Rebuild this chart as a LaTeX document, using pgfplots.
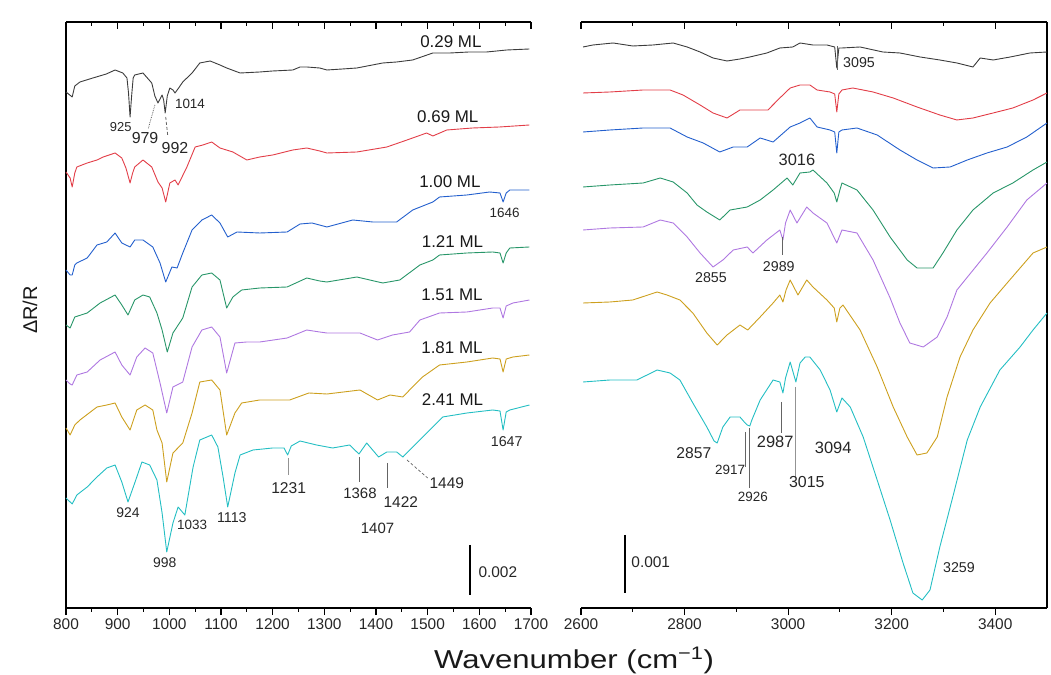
\documentclass[border=0pt]{standalone}
\usepackage{pgfplots}
\pgfplotsset{compat=1.18}
\usepackage{fontspec}
\setmainfont{Liberation Sans}
\newfontfamily\widefont{Liberation Sans}[FakeStretch=1.2]

\definecolor{c029}{RGB}{60,60,60}
\definecolor{c069}{RGB}{226,62,72}
\definecolor{c100}{RGB}{35,95,205}
\definecolor{c121}{RGB}{40,150,105}
\definecolor{c151}{RGB}{175,120,225}
\definecolor{c181}{RGB}{205,160,30}
\definecolor{c241}{RGB}{35,190,195}
\definecolor{lead}{RGB}{100,100,100}

\newcommand{\fs}[1]{\fontsize{#1}{#1}\selectfont}

\tikzset{
  lbl/.style={font=\fs{#1}, text=black!85, inner sep=0pt},
  ml/.style={font=\fs{17}, text=black!90, inner sep=0pt},
}

\pgfplotsset{
  spec/.style={
    scale only axis, anchor=south west,
    width=465bp, height=586bp,
    ymin=0, ymax=586,
    ytick=\empty,
    tick align=outside,
    major tick length=7bp, minor tick length=4bp,
    axis line style={line width=1.2bp, -},
    tick style={line width=1.1bp, black},
    minor x tick num=1,
    /pgf/number format/1000 sep={},
    /pgf/number format/assume math mode=true,
    xticklabel style={font=\fs{15.5}, text=black!85},
    clip=false, no markers,
    every axis plot/.append style={line width=0.9bp, line join=round},
  },
  topframe/.style={
    spec, axis x line*=top, axis y line=none,
    tick align=inside, xticklabels={},
  },
}

\begin{document}
\begin{tikzpicture}
\path[use as bounding box] (0,0) rectangle (1051bp,675bp);

% ---------------- fingerprint region ----------------
\begin{axis}[spec, at={(66bp,67bp)}, xmin=800, xmax=1700,
  xtick={800,900,...,1700}, axis x line*=bottom, axis y line*=left]
% 0.29 ML
\addplot[c029] coordinates {(800,516) (812,511) (817,522) (827,526) (852,530) (878,534) (895,538) (910,535) (918,530) (921,515) (924,491) (927,512) (930,530) (933,533) (949,535) (966,525) (972,512) (978,505) (986,513) (989,508) (992,495) (996,512) (1001,520) (1007,518) (1011,515) (1018,520) (1026,526) (1044,535) (1059,545) (1079,547) (1098,543) (1111,540) (1137,535) (1175,536) (1200,537) (1239,538) (1253,541) (1266,541) (1291,540) (1305,538) (1335,539) (1363,540) (1413,545) (1440,546) (1471,548) (1510,555) (1543,555) (1580,556) (1614,556) (1653,558) (1697,559)};
% 0.69 ML
\addplot[c069] coordinates {(800,436) (808,430) (812,421) (817,435) (821,441) (841,445) (860,448) (872,451) (895,455) (908,450) (916,440) (924,425) (929,435) (933,441) (949,448) (966,441) (978,426) (986,420) (993,406) (1001,425) (1011,428) (1017,423) (1034,441) (1050,461) (1065,463) (1082,466) (1098,460) (1123,456) (1150,448) (1175,451) (1200,453) (1239,458) (1266,460) (1291,457) (1305,455) (1363,456) (1421,461) (1460,468) (1498,475) (1510,472) (1537,478) (1587,480) (1639,481) (1697,483)};
% 1.00 ML
\addplot[c100] coordinates {(800,338) (808,333) (812,333) (817,343) (821,345) (841,350) (860,363) (879,366) (895,375) (908,365) (924,361) (933,368) (949,368) (968,361) (982,345) (993,326) (1005,341) (1015,340) (1026,355) (1044,378) (1063,388) (1082,393) (1098,385) (1113,371) (1131,376) (1175,375) (1228,376) (1253,384) (1276,385) (1305,381) (1355,388) (1394,386) (1440,386) (1471,398) (1510,406) (1523,411) (1576,413) (1620,416) (1640,415) (1646,406) (1652,415) (1659,418) (1697,418)};
% 1.21 ML
\addplot[c121] coordinates {(800,283) (808,280) (817,291) (841,295) (866,305) (895,313) (908,303) (920,293) (933,308) (949,313) (962,311) (976,295) (986,278) (996,256) (1007,275) (1026,290) (1044,321) (1063,333) (1082,335) (1098,328) (1111,300) (1123,311) (1140,318) (1175,320) (1228,321) (1266,330) (1291,327) (1305,326) (1363,331) (1413,325) (1446,328) (1485,343) (1510,348) (1523,353) (1576,355) (1626,356) (1640,355) (1646,345) (1652,355) (1659,360) (1697,361)};
% 1.51 ML
\addplot[c151] coordinates {(800,228) (808,224) (812,223) (821,233) (841,236) (866,248) (895,256) (908,243) (924,233) (937,251) (953,260) (968,255) (982,225) (995,195) (1007,221) (1026,226) (1044,261) (1063,278) (1082,281) (1098,271) (1111,235) (1127,265) (1150,266) (1175,266) (1228,270) (1266,278) (1291,276) (1305,275) (1369,275) (1403,268) (1432,273) (1465,276) (1485,288) (1523,295) (1576,296) (1626,300) (1640,300) (1646,290) (1652,302) (1665,305) (1697,308)};
% 1.81 ML
\addplot[c181] coordinates {(800,180) (808,173) (817,183) (827,188) (860,201) (879,203) (895,205) (908,191) (924,178) (937,198) (953,203) (968,198) (976,178) (986,165) (995,126) (1007,155) (1026,165) (1044,195) (1059,226) (1082,228) (1098,218) (1111,173) (1127,195) (1140,205) (1175,208) (1233,208) (1270,215) (1305,214) (1369,218) (1403,208) (1427,213) (1452,211) (1465,218) (1490,231) (1523,243) (1576,246) (1626,250) (1640,249) (1646,236) (1652,249) (1665,251) (1697,253)};
% 2.41 ML
\addplot[c241] coordinates {(800,110) (808,106) (812,104) (821,113) (841,121) (860,131) (879,140) (895,143) (908,126) (920,106) (933,125) (947,146) (962,143) (976,128) (986,95) (995,56) (1007,85) (1017,101) (1030,93) (1046,141) (1059,168) (1082,173) (1094,161) (1104,131) (1113,101) (1127,135) (1137,153) (1162,158) (1200,160) (1222,160) (1229,153) (1236,162) (1253,167) (1285,163) (1316,160) (1349,163) (1367,154) (1382,165) (1405,151) (1421,156) (1440,156) (1452,151) (1479,165) (1510,181) (1529,191) (1576,195) (1626,198) (1640,197) (1646,178) (1652,196) (1659,198) (1697,203)};

% coverage labels
\node[ml] at (axis cs:1545,566) {0.29 ML};
\node[ml] at (axis cs:1539,491) {0.69 ML};
\node[ml] at (axis cs:1543,426) {1.00 ML};
\node[ml] at (axis cs:1548,366) {1.21 ML};
\node[ml] at (axis cs:1547,313) {1.51 ML};
\node[ml] at (axis cs:1547,260) {1.81 ML};
\node[ml] at (axis cs:1548,208) {2.41 ML};

% band assignments
\node[lbl=13] at (axis cs:906,481) {925};
\node[lbl=16] at (axis cs:953,470) {979};
\draw[lead, densely dotted, line width=0.8bp] (axis cs:972,503) -- (axis cs:959,479);
\node[lbl=16] at (axis cs:1011,460) {992};
\draw[lead, densely dashed, line width=0.8bp] (axis cs:993,491) -- (axis cs:997,472);
\node[lbl=13.5] at (axis cs:1040,504) {1014};
\node[lbl=13.5] at (axis cs:1649,395) {1646};
\node[lbl=14.3] at (axis cs:1653,166) {1647};
\node[lbl=14] at (axis cs:920,95) {924};
\node[lbl=14] at (axis cs:991,45) {998};
\node[lbl=13.5] at (axis cs:1044,83) {1033};
\node[lbl=14.3] at (axis cs:1121,90) {1113};
\draw[lead!70, line width=0.9bp] (axis cs:1231,150) -- (axis cs:1231,133);
\node[lbl=15.7] at (axis cs:1231,120) {1231};
\draw[lead, line width=0.8bp] (axis cs:1368,151) -- (axis cs:1368,126);
\node[lbl=15] at (axis cs:1369,115) {1368};
\draw[lead, line width=0.8bp] (axis cs:1422,145) -- (axis cs:1422,120);
\node[lbl=15.5] at (axis cs:1448,106) {1422};
\node[lbl=15] at (axis cs:1403,80) {1407};
\draw[lead, densely dashed, line width=0.7bp] (axis cs:1460,148) -- (axis cs:1500,130);
\node[lbl=15.5] at (axis cs:1537,125) {1449};

% scale bar
\draw[black, line width=2bp] (axis cs:1581,63) -- (axis cs:1581,13);
\node[lbl=15.5, anchor=west] at (axis cs:1598,36) {0.002};
\end{axis}
\begin{axis}[topframe, at={(66bp,67bp)}, xmin=800, xmax=1700,
  xtick={800,900,...,1700}]
\end{axis}

% ---------------- C-H / O-H stretching region ----------------
\begin{axis}[spec, at={(581bp,67bp)}, width=466bp, xmin=2600, xmax=3500,
  xtick={2600,2800,...,3400}, axis x line*=bottom, axis y line*=right]
% 0.29 ML
\addplot[c029] coordinates {(2604,561) (2623,563) (2662,565) (2700,562) (2739,563) (2778,565) (2805,561) (2830,556) (2855,550) (2882,547) (2907,549) (2926,551) (2959,555) (2984,560) (3009,561) (3023,565) (3048,563) (3075,563) (3090,561) (3094,540) (3098,560) (3104,560) (3139,561) (3183,556) (3216,555) (3255,551) (3293,548) (3326,545) (3357,541) (3371,550) (3396,548) (3429,551) (3467,555) (3500,556)};
% 0.69 ML
\addplot[c069] coordinates {(2604,515) (2656,516) (2720,518) (2772,518) (2797,513) (2830,503) (2855,495) (2882,490) (2907,498) (2932,498) (2961,498) (2984,510) (3004,520) (3023,523) (3042,523) (3056,518) (3081,516) (3090,514) (3094,496) (3098,514) (3104,518) (3125,520) (3164,516) (3203,510) (3249,501) (3293,493) (3326,488) (3357,490) (3396,495) (3434,500) (3473,508) (3500,515)};
% 1.00 ML
\addplot[c100] coordinates {(2604,476) (2656,478) (2720,480) (2772,480) (2805,471) (2836,465) (2868,456) (2894,461) (2921,461) (2946,470) (2971,466) (3004,481) (3023,485) (3042,490) (3056,481) (3081,478) (3090,476) (3094,455) (3098,476) (3104,478) (3133,480) (3172,473) (3216,458) (3249,448) (3280,440) (3313,441) (3346,448) (3384,455) (3423,461) (3461,471) (3500,485)};
% 1.21 ML
\addplot[c121] coordinates {(2604,421) (2656,423) (2720,425) (2753,430) (2778,426) (2805,415) (2824,403) (2843,396) (2868,388) (2888,398) (2921,401) (2946,408) (2971,418) (2998,430) (3009,423) (3023,435) (3042,436) (3048,438) (3075,425) (3089,415) (3094,406) (3100,418) (3104,425) (3133,418) (3164,398) (3197,371) (3230,348) (3249,340) (3280,340) (3299,355) (3326,378) (3357,398) (3396,415) (3434,425) (3473,438) (3500,446)};
% 1.51 ML
\addplot[c151] coordinates {(2604,378) (2656,380) (2720,381) (2753,388) (2778,385) (2805,371) (2830,355) (2855,341) (2874,348) (2894,358) (2921,361) (2932,355) (2959,368) (2984,378) (2990,368) (2995,385) (3004,398) (3017,385) (3036,401) (3048,395) (3075,385) (3094,365) (3104,378) (3133,375) (3164,348) (3197,310) (3216,285) (3235,265) (3261,261) (3288,271) (3307,291) (3326,318) (3384,355) (3423,381) (3461,408) (3500,425)};
% 1.81 ML
\addplot[c181] coordinates {(2604,305) (2656,306) (2700,308) (2747,316) (2766,313) (2791,308) (2816,295) (2843,275) (2863,263) (2882,273) (2907,283) (2922,278) (2946,291) (2971,305) (2984,313) (2990,306) (2996,318) (3004,328) (3019,313) (3036,328) (3048,321) (3075,308) (3089,300) (3094,286) (3100,300) (3106,303) (3139,278) (3172,241) (3203,201) (3230,171) (3249,153) (3268,155) (3288,171) (3307,211) (3332,251) (3357,278) (3390,305) (3423,325) (3473,355) (3500,361)};
% 2.41 ML
\addplot[c241] coordinates {(2604,226) (2656,228) (2708,228) (2747,238) (2772,235) (2791,228) (2816,205) (2843,181) (2857,167) (2863,165) (2874,181) (2888,191) (2907,191) (2917,185) (2921,183) (2926,182) (2930,188) (2946,208) (2971,228) (2984,226) (2990,215) (2995,230) (3004,246) (3015,226) (3023,245) (3033,251) (3042,251) (3062,238) (3081,218) (3094,196) (3104,210) (3120,201) (3145,171) (3172,128) (3197,88) (3222,45) (3241,15) (3259,8) (3274,18) (3293,61) (3318,111) (3346,168) (3371,201) (3409,238) (3448,261) (3473,278) (3500,295)};

% band assignments
\draw[lead, line width=0.9bp] (axis cs:3095,562) -- (axis cs:3095,538);
\node[lbl=14.3] at (axis cs:3137,545) {3095};
\node[lbl=16.5] at (axis cs:3017,448) {3016};
\node[lbl=14.3] at (axis cs:2851,330) {2855};
\draw[lead, line width=0.8bp] (axis cs:2989,371) -- (axis cs:2989,353);
\node[lbl=14.3] at (axis cs:2982,341) {2989};
\node[lbl=15.7] at (axis cs:2818,155) {2857};
\draw[lead, line width=0.8bp] (axis cs:2917,176) -- (axis cs:2917,141);
\node[lbl=13.5] at (axis cs:2888,138) {2917};
\draw[lead, line width=0.8bp] (axis cs:2926,180) -- (axis cs:2926,120);
\node[lbl=13.5] at (axis cs:2932,111) {2926};
\draw[lead, line width=0.8bp] (axis cs:2987,206) -- (axis cs:2987,175);
\node[lbl=16.5] at (axis cs:2975,166) {2987};
\draw[lead!70, line width=0.8bp] (axis cs:3015,221) -- (axis cs:3015,131);
\node[lbl=16] at (axis cs:3036,126) {3015};
\node[lbl=16.5] at (axis cs:3087,160) {3094};
\node[lbl=14.3] at (axis cs:3330,40) {3259};

% scale bar
\draw[black, line width=2bp] (axis cs:2685,73) -- (axis cs:2685,15);
\node[lbl=15.5, anchor=west] at (axis cs:2697,46) {0.001};
\end{axis}
\begin{axis}[topframe, at={(581bp,67bp)}, width=466bp, xmin=2600, xmax=3500,
  xtick={2600,2800,...,3400}]
\end{axis}

% axis titles
\node[font=\widefont\fs{26}, text=black!90, anchor=base] at (574bp,7bp) {Wavenumber (cm\textsuperscript{−1})};
\node[font=\fs{20}, text=black!90, rotate=90] at (30bp,365bp) {ΔR/R};
\end{tikzpicture}
\end{document}
